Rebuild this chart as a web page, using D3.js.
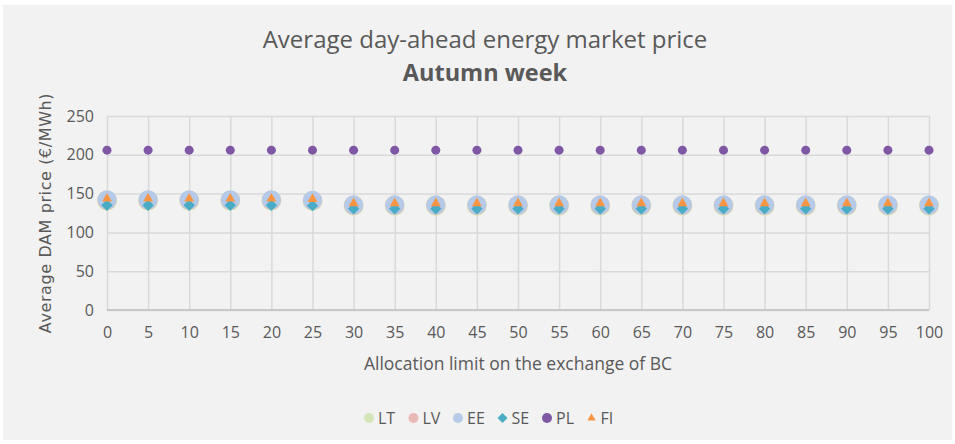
<!DOCTYPE html>
<html>
<head>
<meta charset="utf-8">
<script src="https://cdn.jsdelivr.net/npm/d3@7"></script>
<style>
  body { margin: 0; background: #fff; }
  text { font-family: "Open Sans", sans-serif; fill: #595959; }
</style>
</head>
<body>
<div id="chart"></div>
<script>
// categories on the x axis (allocation limit)
var limits = [0, 5, 10, 15, 20, 25, 30, 35, 40, 45, 50, 55, 60, 65, 70, 75, 80, 85, 90, 95, 100];
var yTicks = [0, 50, 100, 150, 200, 250];

// series values
var LT = [141, 141, 141, 141, 141, 140.5, 134.5, 134.5, 134.5, 134.5, 134.5, 134.5, 134.5, 134.5, 134.5, 134.5, 134.5, 134.5, 134.5, 134.5, 134.5];
var LV = [141.5, 141.5, 141.5, 141.5, 141.5, 141, 135, 135, 135, 135, 135, 135, 135, 135, 135, 135, 135, 135, 135, 135, 135];
var EE = [142, 142, 142, 142, 142, 141.5, 135.5, 135.5, 135.5, 135.5, 135.5, 135.5, 135.5, 135.5, 135.5, 135.5, 135.5, 135.5, 135.5, 135.5, 135.5];
var SE = [135, 135, 135, 135, 135, 134.5, 130.5, 130.5, 130.5, 130.5, 130.5, 130.5, 130.5, 130.5, 130.5, 130.5, 130.5, 130.5, 130.5, 130.5, 130.5];
var PL = [206, 206, 206, 206, 206, 206, 206, 206, 206, 206, 206, 206, 206, 206, 206, 206, 206, 206, 206, 206, 206];
var FI = [143.5, 143.5, 143.5, 143.5, 143.5, 143, 137.5, 137.5, 137.5, 137.5, 137.5, 137.5, 137.5, 137.5, 137.5, 137.5, 137.5, 137.5, 137.5, 137.5, 137.5];

var series = [
  { name: "LT", values: LT, color: "#d4e6b8", shape: "circle", r: 10 },
  { name: "LV", values: LV, color: "#ebb8b8", shape: "circle", r: 9.5 },
  { name: "EE", values: EE, color: "#b5c9e8", shape: "circle", r: 9.5 },
  { name: "SE", values: SE, color: "#4aabc5", shape: "diamond", size: 64 },
  { name: "PL", values: PL, color: "#7f57a5", shape: "circle", r: 4.5 },
  { name: "FI", values: FI, color: "#f79545", shape: "triangle", size: 42 }
];

var W = 955, H = 444;
var margin = { top: 116, right: 26, bottom: 134, left: 107 },
  width = W - margin.left - margin.right,
  height = H - margin.top - margin.bottom;

var svg = d3.select("#chart").append("svg")
  .attr("width", W)
  .attr("height", H);

// chart area background
svg.append("rect")
  .attr("x", 3).attr("y", 5)
  .attr("width", W - 6).attr("height", H - 9)
  .attr("fill", "#f2f2f2");

// titles
svg.append("text")
  .attr("x", 485).attr("y", 48)
  .attr("text-anchor", "middle")
  .style("font-size", "24px")
  .text("Average day-ahead energy market price");
svg.append("text")
  .attr("x", 485).attr("y", 81)
  .attr("text-anchor", "middle")
  .style("font-size", "23.5px")
  .style("font-weight", "bold")
  .text("Autumn week");

var g = svg.append("g")
  .attr("transform", "translate(" + margin.left + "," + margin.top + ")");

var x = d3.scalePoint().domain(limits).range([0, width]);
var y = d3.scaleLinear().domain([0, 250]).range([height, 0]);

// horizontal gridlines + y labels
var yAxis = g.append("g")
  .call(d3.axisLeft(y).tickValues(yTicks).tickSize(-width).tickPadding(13));
yAxis.select(".domain").remove();
yAxis.selectAll(".tick line").attr("stroke", "#d9d9d9").attr("stroke-width", 1.5);
yAxis.selectAll(".tick text").style("font-size", "16px").attr("fill", "#595959");

// vertical gridlines + x labels
var xAxis = g.append("g")
  .attr("transform", "translate(0," + height + ")")
  .call(d3.axisBottom(x).tickSize(-height).tickPadding(17));
xAxis.select(".domain").remove();
xAxis.selectAll(".tick line").attr("stroke", "#d9d9d9").attr("stroke-width", 1.5);
xAxis.selectAll(".tick text").style("font-size", "16px").attr("fill", "#595959");

// bottom axis line
g.append("line")
  .attr("x1", 0).attr("x2", width)
  .attr("y1", height).attr("y2", height)
  .attr("stroke", "#bfbfbf").attr("stroke-width", 1.5);

// axis titles
svg.append("text")
  .attr("x", 518).attr("y", 370)
  .attr("text-anchor", "middle")
  .style("font-size", "17.5px")
  .text("Allocation limit on the exchange of BC");
svg.append("text")
  .attr("transform", "translate(51,213) rotate(-90)")
  .attr("text-anchor", "middle")
  .style("font-family", "DejaVu Sans")
  .style("font-size", "16px")
  .style("letter-spacing", "0.6px")
  .text("Average DAM price (€/MWh)");

function drawMarker(sel, s) {
  if (s.shape === "circle") {
    sel.append("circle").attr("r", s.r).attr("fill", s.color);
  } else if (s.shape === "diamond") {
    sel.append("path").attr("d", d3.symbol().type(d3.symbolSquare).size(s.size)())
      .attr("transform", "rotate(45)").attr("fill", s.color);
  } else {
    sel.append("path").attr("d", d3.symbol().type(d3.symbolTriangle).size(s.size)()).attr("fill", s.color);
  }
}

// points
series.forEach(function (s) {
  var pts = g.append("g").selectAll("g")
    .data(s.values)
    .enter().append("g")
    .attr("transform", function (d, i) {
      return "translate(" + x(limits[i]) + "," + y(d) + ")";
    });
  pts.each(function () { drawMarker(d3.select(this), s); });
});

// legend
var legend = svg.append("g").attr("transform", "translate(369,418)");
series.forEach(function (s, i) {
  var item = legend.append("g").attr("transform", "translate(" + i * 44.5 + ",0)");
  var ls = Object.assign({}, s);
  if (s.shape === "circle") ls.r = 5;
  if (s.shape === "diamond") ls.size = 50;
  if (s.shape === "triangle") ls.size = 30;
  drawMarker(item, ls);
  item.append("text")
    .attr("x", 9).attr("y", 6)
    .style("font-size", "16px")
    .text(s.name);
});
</script>
</body>
</html>
